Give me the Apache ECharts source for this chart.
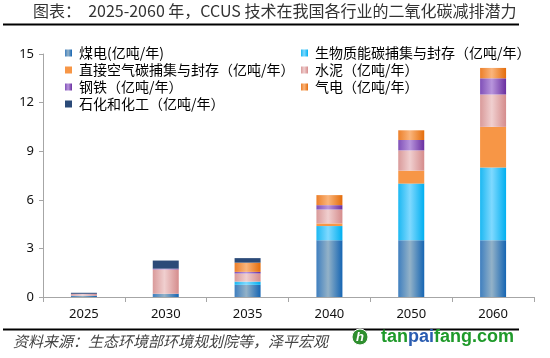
<!DOCTYPE html>
<html>
<head>
<meta charset="utf-8">
<script src="https://cdn.jsdelivr.net/npm/echarts@6/dist/echarts.min.js"></script>
<style>
html,body{margin:0;padding:0;background:#fff;}
#chart{width:550px;height:358px;}
</style>
</head>
<body>
<div id="chart"></div>
<script>
var years = ['2025', '2030', '2035', '2040', '2050', '2060'];
var coalPower = [0.08, 0.2, 0.75, 3.5, 3.5, 3.5];
var bioCCS = [0, 0, 0.2, 0.88, 3.5, 4.5];
var dacCCS = [0, 0, 0, 0.16, 0.8, 2.5];
var cement = [0.1, 1.5, 0.5, 0.86, 1.25, 2.0];
var steel = [0.02, 0.05, 0.1, 0.27, 0.64, 1.0];
var gasPower = [0, 0, 0.57, 0.62, 0.6, 0.64];
var petrochem = [0.06, 0.5, 0.28, 0, 0, 0];
var yTicks = [0, 3, 6, 9, 12, 15];

var names = ['煤电(亿吨/年)', '生物质能碳捕集与封存（亿吨/年）', '直接空气碳捕集与封存（亿吨/年）',
  '水泥（亿吨/年）', '钢铁（亿吨/年）', '气电（亿吨/年）', '石化和化工（亿吨/年）'];

function grad(edge, center, edge2) {
  return new echarts.graphic.LinearGradient(0, 0, 1, 0, [
    {offset: 0, color: edge}, {offset: 0.45, color: center}, {offset: 1, color: edge2 || edge}
  ]);
}
var colors = [
  grad('#3f7fbf', '#93b2c8', '#1565b3'),
  grad('#1cb8f2', '#7fd9ff', '#00aff0'),
  '#f79646',
  grad('#d99a9a', '#f0cfcf', '#d58c8c'),
  grad('#8050b8', '#b895dc', '#6a2fa0'),
  grad('#ec7f2a', '#fab57c', '#e46c0a'),
  '#2b4a78'
];
var dataSets = [coalPower, bioCCS, dacCCS, cement, steel, gasPower, petrochem];

var series = names.map(function (n, i) {
  return {
    name: n, type: 'bar', stack: 'total', barWidth: 26,
    itemStyle: {color: colors[i]},
    data: dataSets[i]
  };
});

var chart = echarts.init(document.getElementById('chart'), null, {renderer: 'canvas'});
var legendText = {fontSize: 14, color: '#000', fontFamily: '"Noto Sans CJK SC", sans-serif', lineHeight: 14, padding: [0, 0, 0, 2]};
chart.setOption({
  animation: false,
  backgroundColor: '#fff',
  legend: [
    {orient: 'vertical', left: 60, top: 41, itemWidth: 7, itemHeight: 7, itemGap: 3, icon: 'rect',
      textStyle: legendText, data: [names[0], names[2], names[4], names[6]]},
    {orient: 'vertical', left: 296, top: 41, itemWidth: 7, itemHeight: 7, itemGap: 3, icon: 'rect',
      textStyle: legendText, data: [names[1], names[3], names[5]]}
  ],
  grid: {left: 43, right: 16, top: 54, bottom: 61, containLabel: false},
  xAxis: {
    type: 'category', data: years,
    axisLine: {lineStyle: {color: '#a6a6a6', width: 1}},
    axisTick: {show: true, length: 5, lineStyle: {color: '#a6a6a6'}},
    axisLabel: {fontSize: 13, color: '#111', margin: 11, fontFamily: '"Noto Sans", sans-serif'}
  },
  yAxis: {
    type: 'value', min: yTicks[0], max: yTicks[yTicks.length - 1], interval: 3,
    splitLine: {show: false},
    axisLine: {show: true, lineStyle: {color: '#a6a6a6', width: 1}},
    axisTick: {show: true, length: 4, lineStyle: {color: '#a6a6a6'}},
    axisLabel: {fontSize: 13, color: '#111', margin: 9, fontFamily: '"Noto Sans", sans-serif'}
  },
  series: series,
  graphic: [
    {type: 'text', left: 33, top: 3, style: {text: '图表：  2025-2060 年，CCUS 技术在我国各行业的二氧化碳减排潜力',
      fontSize: 16, fill: '#333', fontFamily: '"Noto Sans CJK SC", sans-serif'}},
    {type: 'rect', shape: {x: 3, y: 23.5, width: 516, height: 2}, style: {fill: '#000'}},
    {type: 'rect', shape: {x: 3, y: 328.5, width: 516, height: 2}, style: {fill: '#000'}},
    {type: 'text', left: 13, top: 334, style: {text: '资料来源：生态环境部环境规划院等，泽平宏观',
      fontSize: 15, fill: '#444', fontStyle: 'italic', fontFamily: '"Noto Sans CJK SC", sans-serif'}},
    {type: 'circle', shape: {cx: 360, cy: 337, r: 8}, style: {fill: '#2f8f2f', stroke: '#fff', lineWidth: 1}},
    {type: 'text', x: 360, y: 337, style: {text: 'h', fontSize: 13, fontWeight: 'bold', fontStyle: 'italic', fill: '#fff',
      align: 'center', verticalAlign: 'middle', fontFamily: '"Liberation Sans", sans-serif'}},
    {type: 'text', x: 381, y: 337, style: {
      text: '{g|tan}{b|pai}{g|fang.com}', verticalAlign: 'middle',
      rich: {
        g: {fontSize: 18, fontWeight: 'bold', fill: '#1f9a2a', fontFamily: '"Liberation Sans", sans-serif'},
        b: {fontSize: 18, fontWeight: 'bold', fill: '#2a5cb0', fontFamily: '"Liberation Sans", sans-serif'}
      }}}
  ]
});
</script>
</body>
</html>
